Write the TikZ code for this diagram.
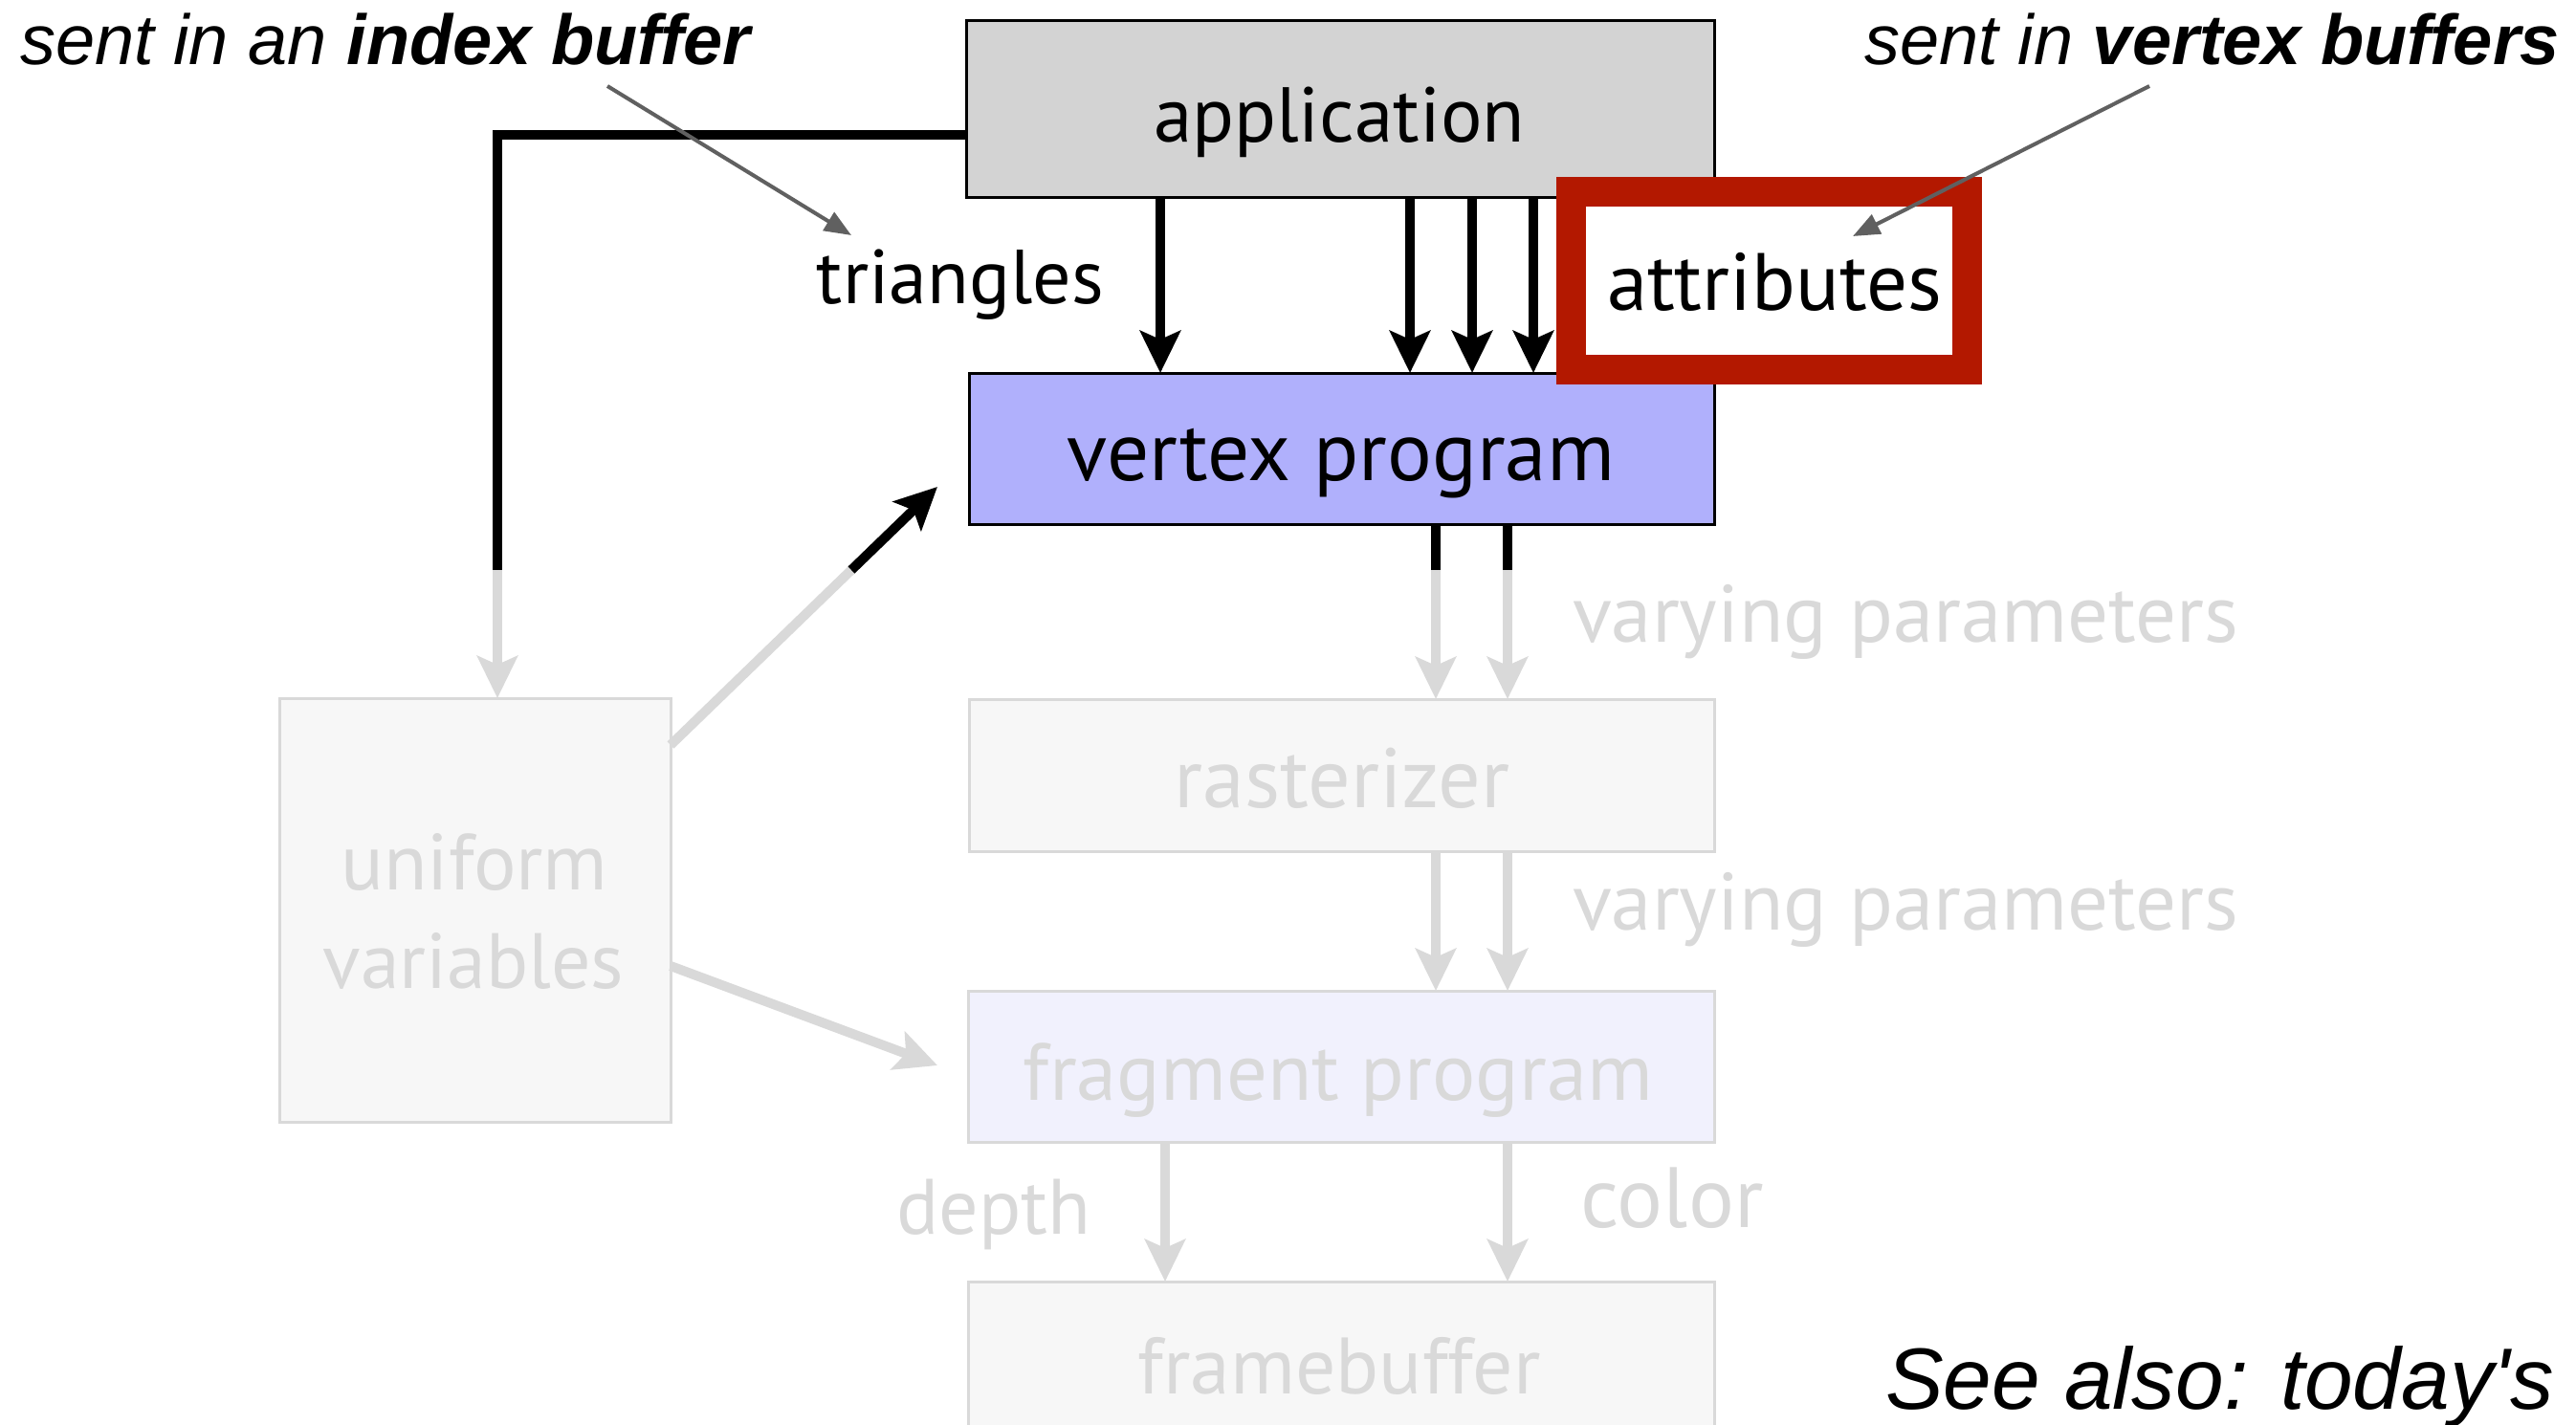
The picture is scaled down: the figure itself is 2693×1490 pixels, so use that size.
\documentclass[tikz,border=0pt]{standalone}
\usepackage{fontspec}
\usepackage{graphicx}
\usetikzlibrary{arrows.meta}
\newfontfamily\gillfont{PT Sans}
\newfontfamily\helvfont{Liberation Sans}
\definecolor{appgray}{RGB}{211,211,211}
\definecolor{vtxblue}{RGB}{176,176,252}
\definecolor{fadeline}{RGB}{217,217,217}
\definecolor{fadefill}{RGB}{247,247,247}
\definecolor{fadeblue}{RGB}{241,241,253}
\definecolor{attrred}{RGB}{179,24,0}
\definecolor{anngray}{RGB}{96,96,96}
\newcommand\fitw[2]{\resizebox{#1pt}{!}{#2}}
\begin{document}
\begin{tikzpicture}[x=1pt,y=-1pt,
  stagebox/.style={draw=black, rectangle, inner sep=0pt, outer sep=0pt, line width=3pt},
  fadebox/.style={draw=fadeline, rectangle, inner sep=0pt, outer sep=0pt, line width=3pt},
  lbl/.style={anchor=base, inner sep=0pt, outer sep=0pt, font=\gillfont\fontsize{80}{90}\selectfont},
  fadelbl/.style={lbl, text=fadeline},
  blkline/.style={draw=black, line width=10pt},
  blkarrow/.style={blkline, -{Stealth[length=44pt,width=42pt,inset=9pt]}},
  fadeseg/.style={draw=fadeline, line width=10pt},
  fadearrow/.style={fadeseg, -{Stealth[length=44pt,width=42pt,inset=9pt]}},
  annarrow/.style={draw=anngray, line width=4pt, -{Triangle[length=28pt,width=22pt]}},
  anntext/.style={inner sep=0pt, outer sep=0pt, font=\helvfont\fontsize{74}{80}\selectfont}
]
\useasboundingbox (0,0) rectangle (2693,1490);

% stage boxes
\node[stagebox, fill=appgray, minimum width=782pt, minimum height=185pt] (app) at (1401,114.5) {};
\node[stagebox, fill=vtxblue, minimum width=779pt, minimum height=158pt] (vtx) at (1402.5,469) {};
\node[fadebox, fill=fadefill, minimum width=779pt, minimum height=159pt] (ras) at (1402.5,810.5) {};
\node[fadebox, fill=fadeblue, minimum width=780pt, minimum height=158pt] (frag) at (1402,1115) {};
\node[fadebox, fill=fadefill, minimum width=780pt, minimum height=170pt] (fb) at (1402,1425) {};
\node[fadebox, fill=fadefill, minimum width=409pt, minimum height=443pt] (uni) at (496.5,951.5) {};

% helper coordinates
\coordinate (xa) at (1213,0);
\coordinate (xb) at (1474,0);
\coordinate (xc) at (1539,0);
\coordinate (xd) at (1603,0);
\coordinate (xl) at (1501,0);
\coordinate (xr) at (1576,0);
\coordinate (xdep) at (1218,0);
\coordinate (cut) at (0,596);
\coordinate (bend) at (520,141);
\coordinate (uy1) at (0,779);
\coordinate (uy2) at (0,1010);
\coordinate (usplit) at (890,596);
\coordinate (vtip) at (980,509);
\coordinate (ftip) at (980,1114);

% application -> vertex program
\foreach \c in {xa,xb,xc,xd} \draw[blkarrow] (app.south -| \c) -- (vtx.north -| \c);
% application -> uniform variables
\draw[blkline] (app.west |- bend) -- (bend) -- (bend |- cut);
\draw[fadearrow] (bend |- cut) -- (uni.north -| bend);
% uniform -> vertex program
\draw[fadeseg] (uni.east |- uy1) -- (usplit);
\draw[blkarrow] (usplit) -- (vtip);
% uniform -> fragment program
\draw[fadearrow] (uni.east |- uy2) -- (ftip);
% vertex -> rasterizer
\foreach \c in {xl,xr} {
  \draw[blkline] (vtx.south -| \c) -- (cut -| \c);
  \draw[fadearrow] (cut -| \c) -- (ras.north -| \c);
  \draw[fadearrow] (ras.south -| \c) -- (frag.north -| \c);
}
% fragment -> framebuffer
\foreach \c in {xdep,xr} \draw[fadearrow] (frag.south -| \c) -- (fb.north -| \c);

% attributes highlight
\node[draw=attrred, line width=31pt, fill=white, rectangle, inner sep=0pt, outer sep=0pt,
      minimum width=414pt, minimum height=185.5pt] (attr) at (1849.5,293.25) {};

% labels
\node[lbl] (app-t) at (1400,149) {\fitw{388}{application}};
\node[lbl] (vtx-t) at (1402,502) {\fitw{572}{vertex program}};
\node[lbl] (tri-t) at (1004,317) {\fitw{300}{triangles}};
\node[lbl] (attr-t) at (1855,324) {\fitw{350}{attributes}};
\node[fadelbl] (var1-t) at (1992,671) {\fitw{696}{varying parameters}};
\node[fadelbl] (var2-t) at (1992,972) {\fitw{696}{varying parameters}};
\node[fadelbl] (ras-t) at (1403,844) {\fitw{351}{rasterizer}};
\node[fadelbl] (frag-t) at (1399,1150) {\fitw{658}{fragment program}};
\node[fadelbl] (dep-t) at (1039,1290) {\fitw{203}{depth}};
\node[fadelbl] (col-t) at (1748,1283) {\fitw{191}{color}};
\node[fadelbl] (fb-t) at (1400,1457) {\fitw{421}{framebuffer}};
\node[fadelbl] (uni-t1) at (496,930) {\fitw{279}{uniform}};
\node[fadelbl] (uni-t2) at (495,1033) {\fitw{315}{variables}};

% annotations
\node[anntext, anchor=base west] (idx-t) at (21,68) {\itshape sent in an \bfseries index buffer};
\node[anntext, anchor=base east] (vb-t) at (2676,68) {\itshape sent in \bfseries vertex buffers};
\node[anntext, anchor=base west, font=\helvfont\fontsize{91}{100}\selectfont] (see-t) at (1971,1473) {\itshape See also: today\textquotesingle s};

\coordinate (a1s) at (635,90);
\coordinate (a1e) at (890,246);
\coordinate (a2s) at (2247,90);
\coordinate (a2e) at (1937,247);
\draw[annarrow] (a1s) -- (a1e);
\draw[annarrow] (a2s) -- (a2e);
\end{tikzpicture}
\end{document}
